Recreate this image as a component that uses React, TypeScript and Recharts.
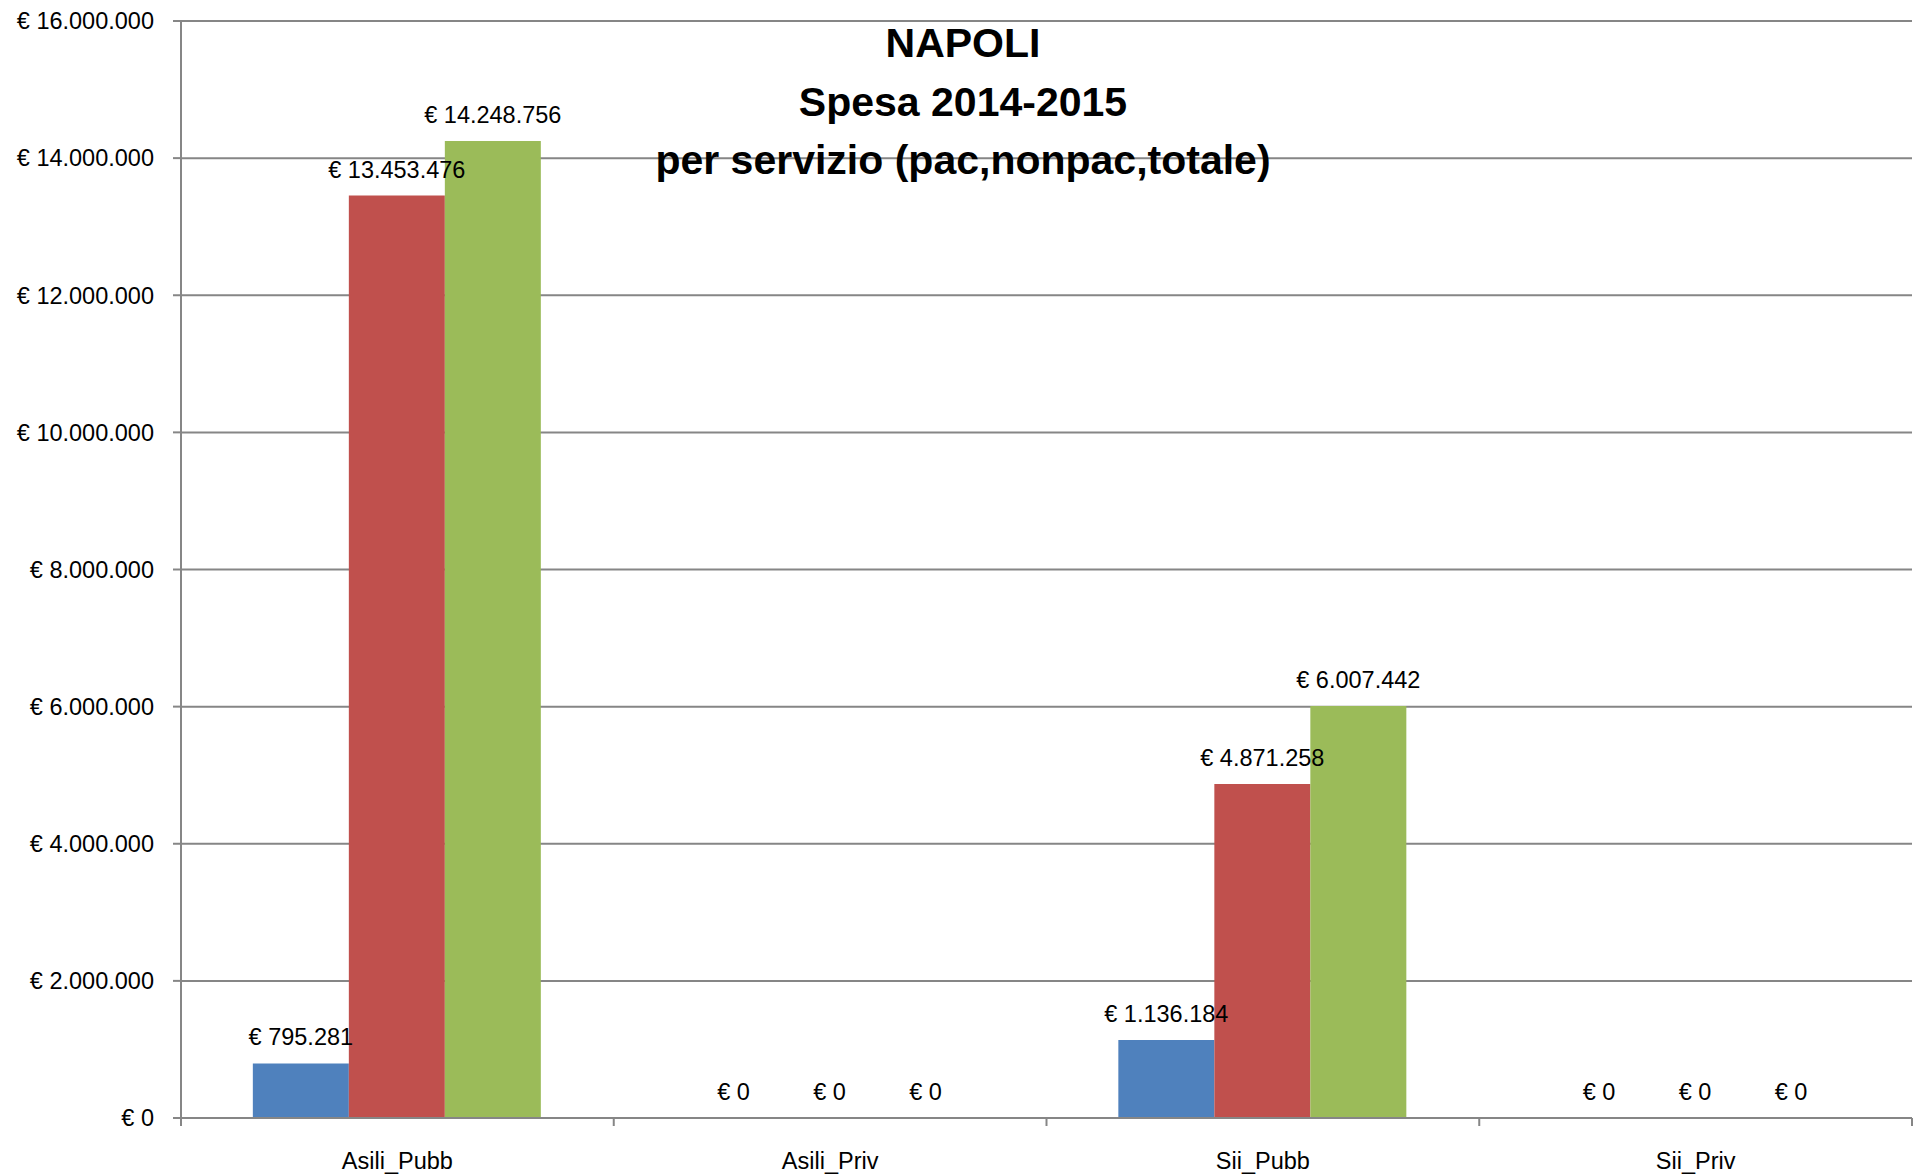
import React from 'react';
import { BarChart, Bar, XAxis, YAxis, CartesianGrid, LabelList } from 'recharts';

const categories = ['Asili_Pubb', 'Asili_Priv', 'Sii_Pubb', 'Sii_Priv'];
const pacValues = [795281, 0, 1136184, 0];
const nonpacValues = [13453476, 0, 4871258, 0];
const totaleValues = [14248756, 0, 6007442, 0];
const yTicks = [0, 2000000, 4000000, 6000000, 8000000, 10000000, 12000000, 14000000, 16000000];
const titleLines = ['NAPOLI', 'Spesa 2014-2015', 'per servizio (pac,nonpac,totale)'];

const data = categories.map((name, i) => ({
  name,
  pac: pacValues[i],
  nonpac: nonpacValues[i],
  totale: totaleValues[i],
}));

const W = 1914;
const H = 1175;
const MARGIN = { top: 21, right: 2, left: 0, bottom: 0 };
const YAXIS_W = 181;
const XAXIS_H = 57;
const HALF_BAND = (W - MARGIN.right - YAXIS_W) / categories.length / 2;
const GRID = '#868686';
const FONT = 23.5;
const LABEL_OFFSET = 18;

const fmt = (v: number) => '€ ' + String(v).replace(/\B(?=(\d{3})+(?!\d))/g, '.');

const XTick = (props: any) => {
  const { x, y, payload, index } = props;
  const isLast = index === categories.length - 1;
  return (
    <g>
      <line x1={x - HALF_BAND} x2={x - HALF_BAND} y1={y} y2={y + 8} stroke={GRID} strokeWidth={2} />
      {isLast && <line x1={x + HALF_BAND} x2={x + HALF_BAND} y1={y} y2={y + 8} stroke={GRID} strokeWidth={2} />}
      <text x={x} y={y + 51} textAnchor="middle" fill="#000" fontSize={FONT}>
        {payload.value}
      </text>
    </g>
  );
};

export default function App() {
  return (
    <div
      style={{
        position: 'absolute',
        left: 0,
        top: 0,
        width: W,
        height: H,
        background: '#fff',
        fontFamily: '"Liberation Sans", Arial, sans-serif',
      }}
    >
      <BarChart
        width={W}
        height={H}
        data={data}
        margin={MARGIN}
        barCategoryGap="16.6%"
        barGap={0}
      >
        <CartesianGrid vertical={false} stroke={GRID} strokeWidth={2} />
        <XAxis
          dataKey="name"
          height={XAXIS_H}
          tickLine={false}
          tickSize={0}
          tickMargin={0}
          axisLine={{ stroke: GRID, strokeWidth: 2 }}
          tick={<XTick />}
          interval={0}
        />
        <YAxis
          width={YAXIS_W}
          domain={[0, 16000000]}
          ticks={yTicks}
          tickFormatter={fmt}
          tickSize={8}
          tickMargin={19}
          axisLine={{ stroke: GRID, strokeWidth: 2 }}
          tickLine={{ stroke: GRID, strokeWidth: 2 }}
          tick={{ fill: '#000', fontSize: FONT }}
          interval={0}
        />
        <Bar dataKey="pac" fill="#4F81BD" minPointSize={0.01} isAnimationActive={false}>
          <LabelList dataKey="pac" position="top" offset={LABEL_OFFSET} formatter={fmt} fill="#000" fontSize={FONT} />
        </Bar>
        <Bar dataKey="nonpac" fill="#C0504D" minPointSize={0.01} isAnimationActive={false}>
          <LabelList dataKey="nonpac" position="top" offset={LABEL_OFFSET} formatter={fmt} fill="#000" fontSize={FONT} />
        </Bar>
        <Bar dataKey="totale" fill="#9BBB59" minPointSize={0.01} isAnimationActive={false}>
          <LabelList dataKey="totale" position="top" offset={LABEL_OFFSET} formatter={fmt} fill="#000" fontSize={FONT} />
        </Bar>
      </BarChart>
      <div
        style={{
          position: 'absolute',
          left: 963 - 500,
          top: 14,
          width: 1000,
          textAlign: 'center',
          fontWeight: 'bold',
          fontSize: 41,
          lineHeight: '58.5px',
          color: '#000',
          pointerEvents: 'none',
        }}
      >
        {titleLines.map((t) => (
          <div key={t}>{t}</div>
        ))}
      </div>
    </div>
  );
}
